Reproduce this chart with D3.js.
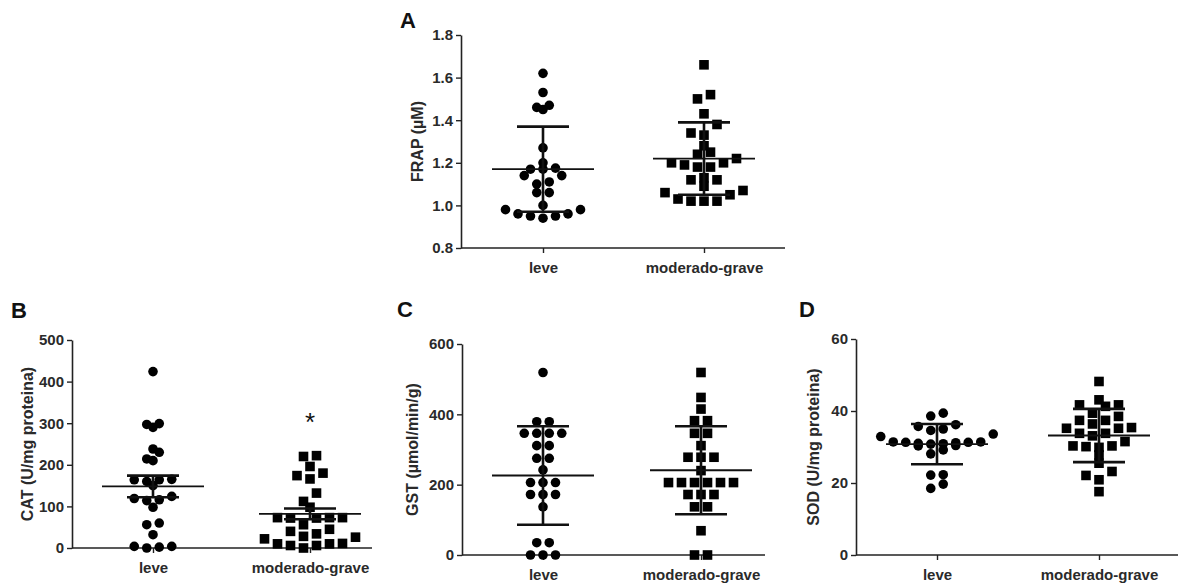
<!DOCTYPE html>
<html>
<head>
<meta charset="utf-8">
<script src="https://cdn.jsdelivr.net/npm/d3@7"></script>
<style>
  body { margin: 0; background: #fff; }
  svg { display: block; font-family: "Liberation Sans", Arial, sans-serif; }
</style>
</head>
<body>
<div id="chart"></div>
<script>
// Groups on the x axis
const groups = ["leve", "moderado-grave"];

// A - FRAP (uM)
const frapLeve = [1.62, 1.53, 1.46, 1.45, 1.47, 1.27, 1.20, 1.17, 1.17, 1.175, 1.14, 1.14,
    1.11, 1.10, 1.06, 1.06, 1.00, 0.98, 0.98, 0.96, 0.96, 0.95, 0.95, 0.94];
const frapModerado = [1.66, 1.52, 1.50, 1.43, 1.38, 1.33, 1.34, 1.28, 1.25, 1.24, 1.20, 1.19,
    1.20, 1.22, 1.18, 1.18, 1.13, 1.12, 1.12, 1.09, 1.07, 1.05, 1.06, 1.03, 1.02, 1.02, 1.02];
const frapMean = [1.17, 1.22];
const frapErr = [0.20, 0.17];
const frapTicks = [0.8, 1.0, 1.2, 1.4, 1.6, 1.8];

// B - CAT (U/mg proteina)
const catLeve = [424, 299, 290, 297, 238, 230, 214, 210, 164, 165, 164, 160, 150,
    124, 116, 98, 114, 119, 60, 56, 32, 4, 0, 2, 4];
const catModerado = [222, 220, 196, 174, 166, 180, 132, 112, 98, 73, 72, 73, 72, 73,
    56, 45, 40, 34, 28, 22, 26, 10, 6, 0, 6, 10, 11];
const catMean = [148, 82];
const catErr = [26, 13];
const catTicks = [0, 100, 200, 300, 400, 500];

// C - GST (umol/min/g)
const gstLeve = [519, 379, 379, 346, 346, 346, 346, 311, 311, 275, 275, 242, 206, 206, 206,
    172, 172, 172, 137, 35, 35, 0, 0, 0];
const gstModerado = [519, 448, 415, 382, 382, 346, 346, 311, 278, 278, 278, 240,
    206, 206, 206, 206, 206, 206, 172, 172, 172, 137, 137, 69, 0, 0];
const gstMean = [226, 241];
const gstErr = [140, 125];
const gstTicks = [0, 200, 400, 600];

// D - SOD (U/mg proteina)
const sodLeve = [39.4, 38.6, 36.2, 35.7, 35.0, 34.6, 33.6, 32.9, 31.4, 31.4, 31.3, 31.3,
    31.2, 31.0, 30.9, 30.8, 30.4, 30.3, 29.2, 28.1, 22.3, 22.2, 19.7, 18.5];
const sodModerado = [48.2, 43.1, 41.7, 41.3, 41.7, 39.4, 38.5, 37.4, 37.4, 36.4, 35.4, 35.2,
    35.2, 33.8, 33.1, 33.8, 31.5, 30.3, 30.1, 29.9, 30.3, 27.8, 25.5, 23.2, 22.1, 20.9, 17.6];
const sodMean = [30.8, 33.2];
const sodErr = [5.6, 7.4];
const sodTicks = [0, 20, 40, 60];

const width = 1178;
const height = 584;

// Panel layout (pixel frame of each small plot)
const panels = [
    { letter: "A", title: "FRAP (\u00b5M)", series: [frapLeve, frapModerado], mean: frapMean, err: frapErr,
      ticks: frapTicks, fmt: d3.format(".1f"), left: 461, right: 785, top: 35, bottom: 248,
      centers: [543, 704], letterX: 400, letterY: 28, titleX: 417 },
    { letter: "B", title: "CAT (U/mg proteina)", series: [catLeve, catModerado], mean: catMean, err: catErr,
      ticks: catTicks, fmt: d3.format("d"), left: 72, right: 372, top: 340, bottom: 548,
      centers: [153, 310], letterX: 11, letterY: 318, titleX: 27, star: 1 },
    { letter: "C", title: "GST (\u00b5mol/min/g)", series: [gstLeve, gstModerado], mean: gstMean, err: gstErr,
      ticks: gstTicks, fmt: d3.format("d"), left: 462, right: 765, top: 344, bottom: 555,
      centers: [543, 701], letterX: 397, letterY: 317, titleX: 412 },
    { letter: "D", title: "SOD (U/mg proteina)", series: [sodLeve, sodModerado], mean: sodMean, err: sodErr,
      ticks: sodTicks, fmt: d3.format("d"), left: 856, right: 1178, top: 339, bottom: 555,
      centers: [937, 1099], letterX: 799, letterY: 317, titleX: 813 }
];

const svg = d3.select("#chart")
    .append("svg")
    .attr("width", width)
    .attr("height", height);

svg.append("rect").attr("width", width).attr("height", height).attr("fill", "#fff");

// GraphPad-like scatter: points are binned in rows and spread out symmetrically
const swarm = (values, yScale, binPx, spacing) => {
    const pts = values.map(v => ({ v, py: yScale(v) }));
    const base = d3.max(pts, p => p.py);
    const bins = d3.group(pts, p => Math.floor((base - p.py) / binPx));
    bins.forEach(row => {
        row.sort((a, b) => a.v - b.v);
        const n = row.length;
        row.forEach((p, i) => {
            let slot;
            if (n % 2 === 1) {
                slot = i === 0 ? 0 : Math.ceil(i / 2) * (i % 2 === 1 ? -1 : 1);
            } else {
                slot = (Math.floor(i / 2) + 0.5) * (i % 2 === 0 ? -1 : 1);
            }
            p.dx = slot * spacing;
        });
    });
    return pts;
};

const textColor = "#2a2a2a";

panels.forEach(p => {
    const g = svg.append("g");

    const yScale = d3.scaleLinear()
        .domain(d3.extent(p.ticks))
        .range([p.bottom, p.top]);

    const xScale = d3.scalePoint()
        .domain(groups)
        .range(p.centers);

    // y axis
    const yAxis = g.append("g")
        .attr("transform", `translate(${p.left},0)`)
        .call(d3.axisLeft(yScale).tickValues(p.ticks).tickFormat(p.fmt).tickSize(5).tickPadding(3).tickSizeOuter(0));

    // x axis (line runs past the groups, so it is drawn separately)
    const xAxis = g.append("g")
        .attr("transform", `translate(0,${p.bottom})`)
        .call(d3.axisBottom(xScale).tickSize(5).tickPadding(9).tickSizeOuter(0));
    xAxis.select(".domain").remove();
    xAxis.append("line")
        .attr("x1", p.left).attr("x2", p.right)
        .attr("stroke", "#222").attr("stroke-width", 1.6);

    [yAxis, xAxis].forEach(ax => {
        ax.selectAll(".domain").attr("stroke", "#222").attr("stroke-width", 1.6);
        ax.selectAll(".tick line").attr("stroke", "#222").attr("stroke-width", 1.4);
        ax.selectAll(".tick text")
            .attr("fill", textColor)
            .style("font-size", "15px")
            .style("font-weight", "bold");
    });

    // panel letter
    g.append("text")
        .attr("x", p.letterX)
        .attr("y", p.letterY)
        .attr("fill", "#111")
        .style("font-size", "22px")
        .style("font-weight", "bold")
        .text(p.letter);

    // y axis title
    g.append("text")
        .attr("transform", `translate(${p.titleX},${(p.top + p.bottom) / 2}) rotate(-90)`)
        .attr("text-anchor", "middle")
        .attr("dy", "0.35em")
        .attr("fill", textColor)
        .style("font-size", "16px")
        .style("font-weight", "bold")
        .text(p.title);

    // points
    p.series.forEach((values, gi) => {
        const cx = xScale(groups[gi]);
        if (gi === 0) {
            const pts = swarm(values, yScale, 11, 12.5);
            g.append("g").selectAll("circle")
                .data(pts)
                .join("circle")
                .attr("cx", d => cx + d.dx)
                .attr("cy", d => d.py)
                .attr("r", 4.8)
                .attr("fill", "#000");
        } else {
            const pts = swarm(values, yScale, 11, 13);
            const s = 9.6;
            g.append("g").selectAll("rect")
                .data(pts)
                .join("rect")
                .attr("x", d => cx + d.dx - s / 2)
                .attr("y", d => d.py - s / 2)
                .attr("width", s)
                .attr("height", s)
                .attr("fill", "#000");
        }

        // mean and error bars
        const m = p.mean[gi];
        const e = p.err[gi];
        const lines = g.append("g").attr("stroke", "#111");
        lines.append("line")
            .attr("x1", cx - 51).attr("x2", cx + 51)
            .attr("y1", yScale(m)).attr("y2", yScale(m))
            .attr("stroke-width", 1.8);
        lines.append("line")
            .attr("x1", cx).attr("x2", cx)
            .attr("y1", yScale(m - e)).attr("y2", yScale(m + e))
            .attr("stroke-width", 2.6);
        [m - e, m + e].forEach(v => {
            lines.append("line")
                .attr("x1", cx - 26).attr("x2", cx + 26)
                .attr("y1", yScale(v)).attr("y2", yScale(v))
                .attr("stroke-width", 2.6);
        });
    });

    // significance mark
    if (p.star !== undefined) {
        g.append("text")
            .attr("x", xScale(groups[p.star]))
            .attr("y", yScale(d3.max(p.series[p.star])) - 25)
            .attr("text-anchor", "middle")
            .attr("fill", "#111")
            .style("font-size", "26px")
            .text("*");
    }
});
</script>
</body>
</html>
